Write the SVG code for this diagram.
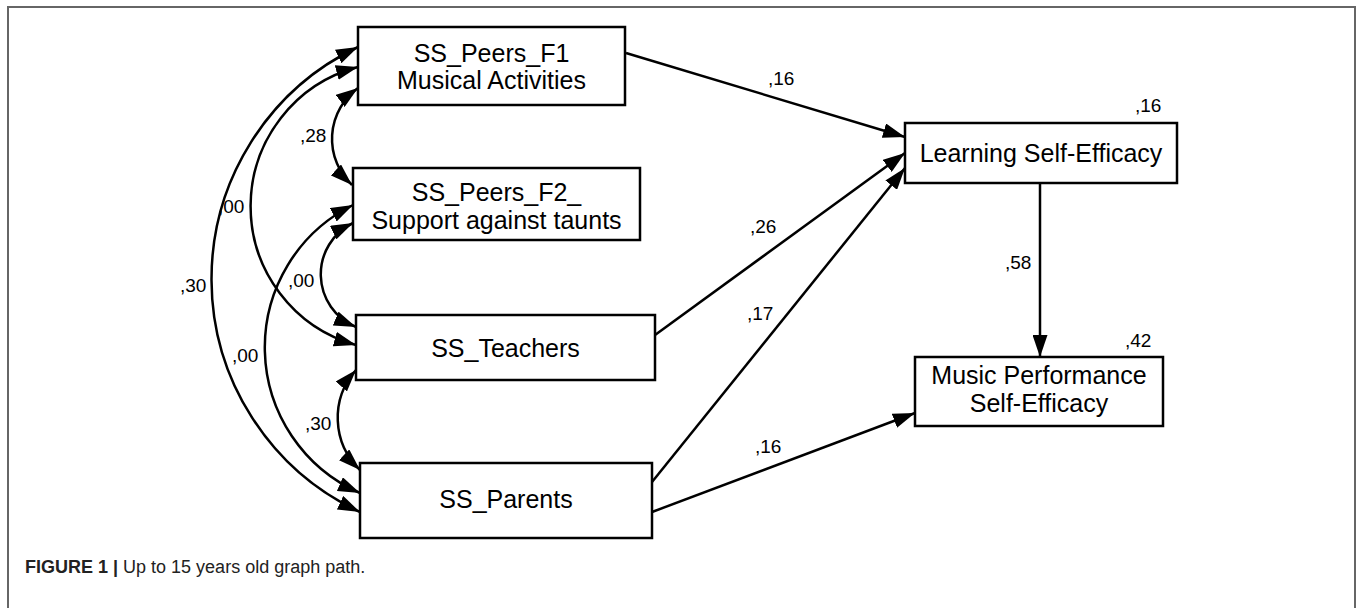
<svg xmlns="http://www.w3.org/2000/svg" width="1357" height="608" viewBox="0 0 1357 608">
<defs>
<style>
.box{fill:#fff;stroke:#000;stroke-width:2.5}
.nt{font-family:"Liberation Sans",Arial,sans-serif;font-size:25px;fill:#000;text-anchor:middle}
.lb{font-family:"Liberation Sans",Arial,sans-serif;font-size:19px;fill:#000}
.ln{fill:none;stroke:#000;stroke-width:2.5}
.one{marker-end:url(#ah)}
.two{marker-start:url(#ah);marker-end:url(#ah)}
.cap{font-family:"Liberation Sans",Arial,sans-serif;font-size:18px;fill:#222}
</style>
<marker id="ah" markerUnits="userSpaceOnUse" markerWidth="23" markerHeight="15" refX="22" refY="7.5" orient="auto-start-reverse">
<path d="M0,0 L22,7.5 L0,15 Z" fill="#000"/>
</marker>
</defs>
<rect width="1357" height="608" fill="#fff"/>
<path d="M8,608 V7 H1355 V608" fill="none" stroke="#666" stroke-width="2"/>
<g id="connectors">
<path class="ln two" d="M358,47 A257,257 0 0 0 360,512"/>
<path class="ln two" d="M358,67 A144,144 0 0 0 356,345"/>
<path class="ln two" d="M353,205 A159,159 0 0 0 360,493"/>
<path class="ln two" d="M353,223 A57,57 0 0 0 356,327"/>
<path class="ln two" d="M358,88 A63,63 0 0 0 352,185"/>
<path class="ln two" d="M356,370 A72,72 0 0 0 360,470"/>
<path class="ln one" d="M626,53 L905,137"/>
<path class="ln one" d="M655,335 L905,153"/>
<path class="ln one" d="M652,482 L905,168"/>
<path class="ln one" d="M652,512 L915,413"/>
<path class="ln one" d="M1040,183 L1040,357"/>
<text class="lb" x="768" y="85">,16</text>
<text class="lb" x="750" y="233">,26</text>
<text class="lb" x="747" y="320">,17</text>
<text class="lb" x="755" y="453">,16</text>
<text class="lb" x="1005" y="269">,58</text>
<text class="lb" x="300" y="142">,28</text>
<text class="lb" x="218" y="213">,00</text>
<text class="lb" x="180" y="292">,30</text>
<text class="lb" x="288" y="287">,00</text>
<text class="lb" x="232" y="362">,00</text>
<text class="lb" x="305" y="430">,30</text>
</g>
<g id="f1">
<rect class="box" x="358" y="27" width="267" height="78"/>
<text class="nt" x="491.5" y="62">SS_Peers_F1</text>
<text class="nt" x="491.5" y="89">Musical Activities</text>
</g>
<g id="f2">
<rect class="box" x="353" y="168" width="287" height="72"/>
<text class="nt" x="496.5" y="201">SS_Peers_F2_</text>
<text class="nt" x="496.5" y="229">Support against taunts</text>
</g>
<g id="teachers">
<rect class="box" x="356" y="315" width="299" height="65"/>
<text class="nt" x="505.5" y="357">SS_Teachers</text>
</g>
<g id="parents">
<rect class="box" x="360" y="463" width="292" height="75"/>
<text class="nt" x="506" y="508">SS_Parents</text>
</g>
<g id="lse">
<rect class="box" x="905" y="123" width="272" height="60"/>
<text class="nt" x="1041" y="162">Learning Self-Efficacy</text>
<text class="lb" x="1135" y="112">,16</text>
</g>
<g id="mpse">
<rect class="box" x="915" y="357" width="248" height="69"/>
<text class="nt" x="1039" y="384">Music Performance</text>
<text class="nt" x="1039" y="412">Self-Efficacy</text>
<text class="lb" x="1125" y="347">,42</text>
</g>
<text class="cap" x="25" y="573"><tspan font-weight="bold">FIGURE 1 |</tspan> Up to 15 years old graph path.</text>
</svg>
